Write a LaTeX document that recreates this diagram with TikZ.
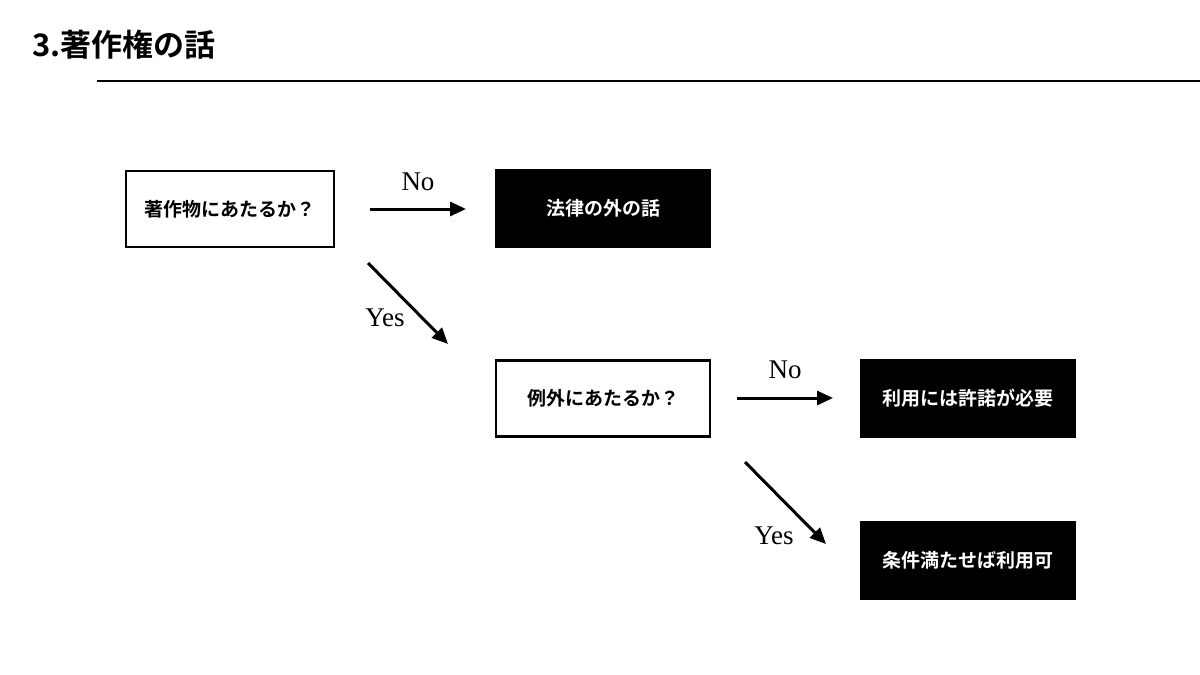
\documentclass[tikz,border=0pt]{standalone}
\usepackage{fontspec}
\setmainfont{Liberation Serif}
\newfontfamily\jp{Noto Sans CJK JP}[BoldFont={* Bold}]
\usetikzlibrary{arrows.meta}
\tikzset{
  qbox/.style={draw=black, line width=2.5pt, fill=white, minimum height=76pt, inner sep=0pt, font=\jp\bfseries\fontsize{19}{22}\selectfont},
  abox/.style={fill=black, text=white, minimum width=216pt, minimum height=79pt, inner sep=0pt, font=\jp\bfseries\fontsize{19}{22}\selectfont},
  flow/.style={line width=3pt, -{Triangle[length=16pt,width=14pt]}},
  lbl/.style={font=\fontsize{27}{30}\selectfont, inner sep=0pt}
}
\begin{document}
\begin{tikzpicture}[x=1pt,y=-1pt]
\useasboundingbox (0,0) rectangle (1200,675);
\node[anchor=west, inner sep=0pt, font=\jp\bfseries\fontsize{31}{34}\selectfont] (title) at (32,45) {3.著作権の話};
\coordinate (l1) at (97,81);
\coordinate (l2) at (1200,81);
\draw[line width=2pt] (l1) -- (l2);

\node[qbox, minimum width=208pt] (q1) at (230,209) {著作物にあたるか？};
\node[abox] (a1) at (603,208.5) {法律の外の話};
\node[qbox, minimum width=214pt] (q2) at (603,398.5) {例外にあたるか？};
\node[abox] (a2) at (967.5,398.5) {利用には許諾が必要};
\node[abox] (a3) at (967.5,560) {条件満たせば利用可};

\coordinate (s1) at (370,209);
\coordinate (e1) at (466,209);
\draw[flow] (s1) -- (e1);
\node[lbl] (n1) at (418,182) {No};

\coordinate (s2) at (368,263);
\coordinate (e2) at (448,344);
\draw[flow] (s2) -- (e2);
\node[lbl] (y1) at (385,318) {Yes};

\coordinate (s3) at (737,398);
\coordinate (e3) at (833,398);
\draw[flow] (s3) -- (e3);
\node[lbl] (n2) at (785,370) {No};

\coordinate (s4) at (745,462);
\coordinate (e4) at (826,544);
\draw[flow] (s4) -- (e4);
\node[lbl] (y2) at (774,536) {Yes};
\end{tikzpicture}
\end{document}
